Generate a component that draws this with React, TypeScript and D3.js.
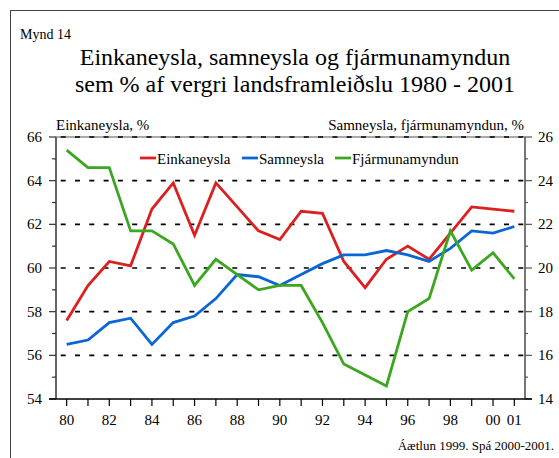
import React from "react";
import * as d3 from "d3";

const years = [1980,1981,1982,1983,1984,1985,1986,1987,1988,1989,1990,1991,1992,1993,1994,1995,1996,1997,1998,1999,2000,2001];
const einkaneysla = [57.6,59.2,60.3,60.1,62.7,63.9,61.5,63.9,62.8,61.7,61.3,62.6,62.5,60.3,59.1,60.4,61.0,60.4,61.6,62.8,62.7,62.6];
const samneysla = [16.5,16.7,17.5,17.7,16.5,17.5,17.8,18.6,19.7,19.6,19.2,19.7,20.2,20.6,20.6,20.8,20.6,20.3,20.9,21.7,21.6,21.9];
const fjarmunamyndun = [25.4,24.6,24.6,21.7,21.7,21.1,19.2,20.4,19.7,19.0,19.2,19.2,17.5,15.6,15.1,14.6,18.0,18.6,21.7,19.9,20.7,19.5];
const xTickYears = [1980,1982,1984,1986,1988,1990,1992,1994,1996,1998,2000,2001];
const xTickLabels = ["80","82","84","86","88","90","92","94","96","98","00","01"];
const leftTicks = [54,56,58,60,62,64,66];
const rightTicks = [14,16,18,20,22,24,26];
const seriesNames = ["Einkaneysla","Samneysla","Fjármunamyndun"];
const colors = ["#dc1f1f","#0a66d4","#3aa71f"];

export default function App() {
  const W = 559, H = 458;
  const x = d3.scaleLinear().domain([1979.5, 2001.5]).range([56, 525]);
  const yL = d3.scaleLinear().domain([54, 66]).range([399, 137]);
  const yR = d3.scaleLinear().domain([14, 26]).range([399, 137]);
  const lineL = d3.line<number>().x((_, i) => x(years[i])).y(d => yL(d));
  const lineR = d3.line<number>().x((_, i) => x(years[i])).y(d => yR(d));
  const paths = [lineL(einkaneysla), lineR(samneysla), lineR(fjarmunamyndun)];
  const minorL = d3.range(54, 67, 1);
  const minorR = d3.range(14, 27, 1);
  const font = "\"Liberation Serif\", \"Times New Roman\", serif";
  const legendX = [140, 242, 335];

  return (
    <svg width={W} height={H} style={{ position: "absolute", left: 0, top: 0, background: "#fff", fontFamily: font }}>
      <rect x={10.5} y={10.5} width={600} height={600} fill="none" stroke="#444" strokeWidth={1} />
      <text x={20} y={39} fontSize={14}>Mynd 14</text>
      <text x={295} y={64.5} fontSize={24} textAnchor="middle">Einkaneysla, samneysla og fjármunamyndun</text>
      <text x={295} y={92} fontSize={24} textAnchor="middle">sem % af vergri landsframleiðslu 1980 - 2001</text>
      <text x={56} y={129.5} fontSize={15}>Einkaneysla, %</text>
      <text x={524} y={129.5} fontSize={15} textAnchor="end">Samneysla, fjármunamyndun, %</text>

      {/* top border */}
      <line x1={56} x2={525} y1={yL(66)} y2={yL(66)} stroke="#555" strokeWidth={1} />
      {/* gridlines */}
      {leftTicks.filter(v => v > 54).map(v => (
        <line key={"g" + v} x1={56} x2={525} y1={yL(v)} y2={yL(v)} stroke="#000" strokeWidth={1.6}
          strokeDasharray="5,9.3" strokeDashoffset={-4.7} />
      ))}

      {/* left axis */}
      <line x1={56} x2={56} y1={137} y2={399} stroke="#666" strokeWidth={2} />
      {minorL.map(v => (
        <line key={"lt" + v} x1={v % 2 === 0 ? 49 : 52} x2={56} y1={yL(v)} y2={yL(v)} stroke="#333" strokeWidth={1.2} />
      ))}
      {leftTicks.map(v => (
        <text key={"ll" + v} x={42} y={yL(v) + 5} fontSize={15} textAnchor="end">{v}</text>
      ))}

      {/* right axis */}
      <line x1={525} x2={525} y1={137} y2={399} stroke="#777" strokeWidth={2} />
      {minorR.map(v => (
        <line key={"rt" + v} x1={525} x2={v % 2 === 0 ? 532 : 528} y1={yR(v)} y2={yR(v)} stroke="#555" strokeWidth={1.2} />
      ))}
      {rightTicks.map(v => (
        <text key={"rl" + v} x={538} y={yR(v) + 5} fontSize={15}>{v}</text>
      ))}

      {/* x axis */}
      <line x1={49} x2={532} y1={399} y2={399} stroke="#000" strokeWidth={1.5} />
      {years.map(yr => (
        <line key={"xt" + yr} x1={x(yr)} x2={x(yr)} y1={399} y2={406} stroke="#000" strokeWidth={1.2} />
      ))}
      {xTickYears.map((yr, i) => (
        <text key={"xl" + yr} x={x(yr)} y={425} fontSize={15} textAnchor="middle">{xTickLabels[i]}</text>
      ))}

      {/* series */}
      {paths.map((p, i) => (
        <path key={"s" + i} d={p || ""} fill="none" stroke={colors[i]} strokeWidth={2.8} strokeLinejoin="miter" />
      ))}

      {/* legend */}
      {seriesNames.map((n, i) => (
        <g key={"lg" + i}>
          <line x1={legendX[i]} x2={legendX[i] + 16} y1={158} y2={158} stroke={colors[i]} strokeWidth={2.8} />
          <text x={legendX[i] + 17} y={163.5} fontSize={15}>{n}</text>
        </g>
      ))}

      <text x={554} y={450} fontSize={13} textAnchor="end">Áætlun 1999. Spá 2000-2001.</text>
    </svg>
  );
}
